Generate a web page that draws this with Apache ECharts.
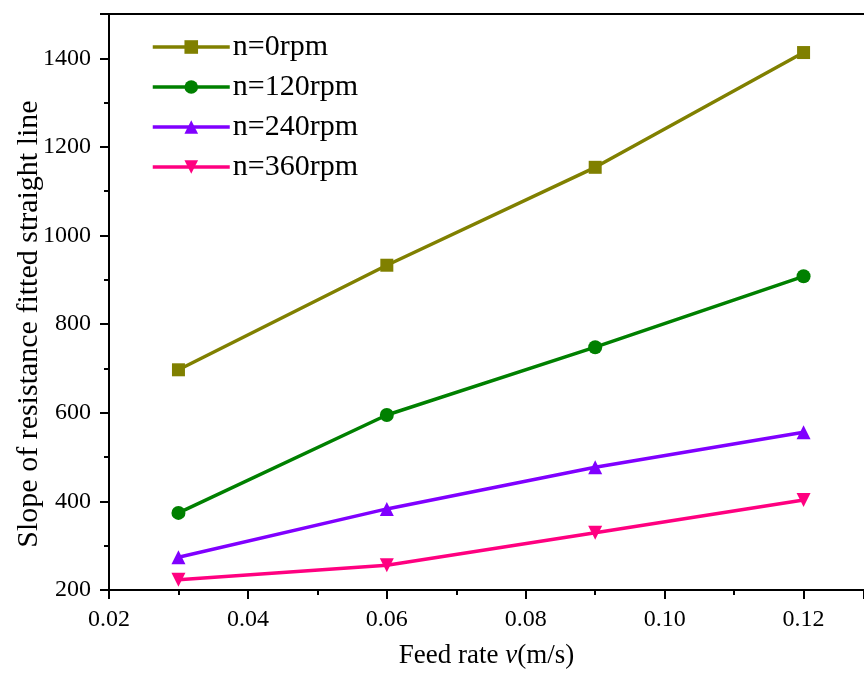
<!DOCTYPE html>
<html><head><meta charset="utf-8">
<script src="https://cdn.jsdelivr.net/npm/echarts@6/dist/echarts.min.js"></script>
<style>html,body{margin:0;padding:0;background:#fff}#c{width:864px;height:673px}</style>
</head><body><div id="c"></div>
<script>
const xValues = [0.03, 0.06, 0.09, 0.12];
const seriesNames = ['n=0rpm', 'n=120rpm', 'n=240rpm', 'n=360rpm'];
const n0 = [697, 933, 1154, 1413];
const n120 = [374, 595, 748, 908];
const n240 = [274, 383, 477, 556];
const n360 = [223, 256, 329, 403];
const colors = ['#808000', '#008000', '#8000ff', '#ff0080'];
const symbols = ['rect', 'circle', 'triangle', 'path://M0,0 L10,0 L5,9 Z'];
const allData = [n0, n120, n240, n360];

const font = 'Liberation Serif, Times New Roman, serif';
const chart = echarts.init(document.getElementById('c'));
chart.setOption({
  animation: false,
  backgroundColor: '#fff',
  grid: {left: 109, right: 0, top: 14, bottom: 83, outerBoundsMode: 'none', containLabel: false},
  legend: {
    left: 146, top: 27, orient: 'vertical', itemGap: 10, itemWidth: 77, itemHeight: 17,
    lineStyle: {width: 3.5},
    textStyle: {fontFamily: font, fontSize: 30, color: '#000', padding: [0,0,0,-2]},
    data: seriesNames
  },
  xAxis: [{
    type: 'value', min: 0.02, max: 0.1287, interval: 0.02,
    name: '{a|Feed rate }{b|v}{a|(m/s)}', nameLocation: 'middle', nameGap: 52,
    nameMoveOverlap: false,
    nameTextStyle: {rich: {a: {fontFamily: font, fontSize: 27, color: '#000'}, b: {fontFamily: font, fontSize: 27, fontStyle: 'italic', color: '#000'}}},
    axisLine: {lineStyle: {color: '#000', width: 2}},
    axisTick: {inside: false, length: 9, lineStyle: {color: '#000', width: 2}},
    minorTick: {show: true, splitNumber: 2, length: 5, lineStyle: {color: '#000', width: 2}},
    splitLine: {show: false},
    axisLabel: {fontFamily: font, fontSize: 24, color: '#000', margin: 18,
      formatter: v => v.toFixed(2), showMaxLabel: false}
  }, {
    type: 'value', position: 'top', min: 0.02, max: 0.1287,
    axisLine: {show: true, onZero: false, lineStyle: {color: '#000', width: 2}},
    axisTick: {show: false}, axisLabel: {show: false}, splitLine: {show: false}
  }],
  yAxis: {
    type: 'value', min: 200, max: 1500, interval: 200,
    name: 'Slope of resistance fitted straight line', nameLocation: 'middle', nameGap: 65,
    nameMoveOverlap: false,
    nameTextStyle: {fontFamily: font, fontSize: 30, color: '#000', padding: [0, 44, 0, 0]},
    axisLine: {show: true, lineStyle: {color: '#000', width: 2}},
    axisTick: {show: true, inside: false, length: 9, lineStyle: {color: '#000', width: 2}},
    minorTick: {show: true, splitNumber: 2, length: 5, lineStyle: {color: '#000', width: 2}},
    splitLine: {show: false},
    axisLabel: {fontFamily: font, fontSize: 24, color: '#000', margin: 18, showMaxLabel: false,
      formatter: v => String(v)}
  },
  series: seriesNames.map((name, i) => ({
    name, type: 'line',
    data: xValues.map((x, j) => [x, allData[i][j]]),
    symbol: symbols[i], symbolSize: i === 0 ? 13 : 14,
    showAllSymbol: true,
    lineStyle: {color: colors[i], width: 3.5},
    itemStyle: {color: colors[i]}
  }))
});
</script></body></html>
